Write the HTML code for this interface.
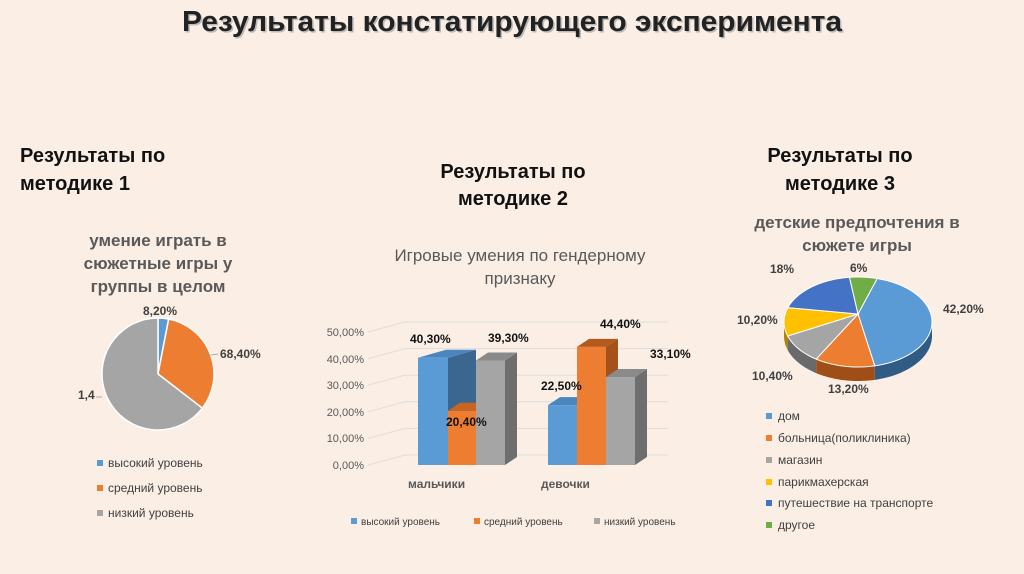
<!DOCTYPE html>
<html><head><meta charset="utf-8"><style>
body{margin:0;background:#fbeee5;}
svg{display:block;font-family:"Liberation Sans",sans-serif;}
</style></head><body>
<svg id="s" width="1024" height="574" viewBox="0 0 1024 574">
<rect width="1024" height="574" fill="#fbeee5"/>
<text x="512" y="31" text-anchor="middle" font-size="29" font-weight="bold" fill="#bbb" transform="translate(1.5,1.5)" textLength="660" lengthAdjust="spacingAndGlyphs">Результаты констатирующего эксперимента</text>
<text x="512" y="31" text-anchor="middle" font-size="29" font-weight="bold" fill="#222" textLength="660" lengthAdjust="spacingAndGlyphs">Результаты констатирующего эксперимента</text>
<g font-size="20" font-weight="bold" fill="#111">
<text x="20" y="162">Результаты по</text><text x="20" y="190">методике 1</text>
<text x="513" y="178" text-anchor="middle">Результаты по</text><text x="513" y="205" text-anchor="middle">методике 2</text>
<text x="840" y="162" text-anchor="middle">Результаты по</text><text x="840" y="190" text-anchor="middle">методике 3</text>
</g>
<g font-size="17" font-weight="bold" fill="#595959" text-anchor="middle">
<text x="158" y="246">умение играть в</text><text x="158" y="269">сюжетные игры у</text><text x="158" y="292">группы в целом</text>
<text x="857" y="228">детские предпочтения в</text><text x="857" y="251">сюжете игры</text>
</g>
<g font-size="17" fill="#595959" text-anchor="middle">
<text x="520" y="261">Игровые умения по гендерному</text><text x="520" y="284">признаку</text>
</g>
<g id="p1"></g>
<g font-size="12" fill="#404040" font-weight="bold">
<text x="143" y="315">8,20%</text>
<text x="220" y="358">68,40%</text>
<text x="78" y="399">1,4</text>
</g>
<line x1="205" y1="356" x2="218" y2="354" stroke="#999" stroke-width="0.8"/>
<line x1="96" y1="397" x2="102" y2="397" stroke="#999" stroke-width="0.8"/>
<g font-size="12" fill="#404040">
<rect x="97" y="460" width="6" height="6" fill="#5b9bd5"/><text x="108" y="467">высокий уровень</text>
<rect x="97" y="485" width="6" height="6" fill="#ed7d31"/><text x="108" y="492">средний уровень</text>
<rect x="97" y="510" width="6" height="6" fill="#a5a5a5"/><text x="108" y="517">низкий уровень</text>
</g>
<g id="grid" stroke="#ddd" stroke-width="1" fill="none"></g>
<g font-size="11" fill="#595959" text-anchor="end">
<text x="364" y="469">0,00%</text><text x="364" y="442">10,00%</text><text x="364" y="416">20,00%</text>
<text x="364" y="389">30,00%</text><text x="364" y="363">40,00%</text><text x="364" y="336">50,00%</text>
</g>
<g id="bars"></g>
<g font-size="12" font-weight="bold" fill="#111">
<text x="410" y="343">40,30%</text><text x="488" y="342">39,30%</text><text x="446" y="426">20,40%</text>
<text x="541" y="390">22,50%</text><text x="600" y="328">44,40%</text><text x="650" y="358">33,10%</text>
</g>
<g font-size="12" font-weight="bold" fill="#595959">
<text x="408" y="488">мальчики</text><text x="541" y="488">девочки</text>
</g>
<g font-size="10" fill="#404040">
<rect x="351" y="518" width="6" height="6" fill="#5b9bd5"/><text x="361" y="525">высокий уровень</text>
<rect x="474" y="518" width="6" height="6" fill="#ed7d31"/><text x="484" y="525">средний уровень</text>
<rect x="594" y="518" width="6" height="6" fill="#a5a5a5"/><text x="604" y="525">низкий уровень</text>
</g>
<g id="p3"></g>
<g font-size="12" fill="#404040" font-weight="bold">
<text x="770" y="273">18%</text><text x="850" y="272">6%</text><text x="943" y="313">42,20%</text>
<text x="737" y="324">10,20%</text><text x="752" y="380">10,40%</text><text x="828" y="393">13,20%</text>
</g>
<g font-size="12" fill="#404040">
<rect x="766" y="413" width="6" height="6" fill="#5b9bd5"/><text x="778" y="420">дом</text>
<rect x="766" y="435" width="6" height="6" fill="#ed7d31"/><text x="778" y="442">больница(поликлиника)</text>
<rect x="766" y="457" width="6" height="6" fill="#a5a5a5"/><text x="778" y="464">магазин</text>
<rect x="766" y="479" width="6" height="6" fill="#ffc000"/><text x="778" y="486">парикмахерская</text>
<rect x="766" y="500" width="6" height="6" fill="#4472c4"/><text x="778" y="507">путешествие на транспорте</text>
<rect x="766" y="522" width="6" height="6" fill="#70ad47"/><text x="778" y="529">другое</text>
</g>
</svg>
<script>
var NS="http://www.w3.org/2000/svg";
function el(p,t,a){var e=document.createElementNS(NS,t);for(var k in a)e.setAttribute(k,a[k]);document.getElementById(p).appendChild(e);return e;}
function rad(d){return d*Math.PI/180;}
(function(){var cx=158,cy=374,r=56,s=[[0,11,"#5b9bd5"],[11,127.6,"#ed7d31"],[127.6,360,"#a5a5a5"]];
s.forEach(function(v){var a=rad(v[0]),b=rad(v[1]);var x1=cx+r*Math.sin(a),y1=cy-r*Math.cos(a),x2=cx+r*Math.sin(b),y2=cy-r*Math.cos(b);
el("p1","path",{d:"M"+cx+","+cy+"L"+x1+","+y1+"A"+r+","+r+" 0 "+((v[1]-v[0])>180?1:0)+" 1 "+x2+","+y2+"Z",fill:v[2],stroke:"#fff","stroke-width":1.5});});})();
for(var i=0;i<=5;i++){var y=465-i*26.6;el("grid","path",{d:"M368,"+y+" L405,"+(y-10)+" L668,"+(y-10)});}
function bar(x,w,v,c,side,top,d){var yb=465,yt=465-v*2.66,dy=8;d=d||12;
el("bars","path",{d:"M"+(x+w)+","+yb+" L"+(x+w+d)+","+(yb-dy)+" L"+(x+w+d)+","+(yt-dy)+" L"+(x+w)+","+yt+"Z",fill:side});
el("bars","rect",{x:x,y:yt,width:w,height:yb-yt,fill:c});
el("bars","path",{d:"M"+x+","+yt+" L"+(x+d)+","+(yt-dy)+" L"+(x+w+d)+","+(yt-dy)+" L"+(x+w)+","+yt+"Z",fill:top});}
bar(418,30,40.3,"#5b9bd5","#3a6690","#4a85c0",28);
bar(448,28,20.4,"#ed7d31","#b55a1e","#c9651f");
bar(476,29,39.3,"#a5a5a5","#6e6e6e","#8a8a8a");
bar(548,29,22.5,"#5b9bd5","#3a6690","#4a85c0");
bar(577,29,44.4,"#ed7d31","#a5511c","#b35a1e");
bar(606,29,33.1,"#a5a5a5","#6e6e6e","#8a8a8a");
(function(){var cx=858,cy=322,rx=74,ry=45,dep=14,start=15;
var sl=[[42.2,"#5b9bd5","#2f5b85"],[13.2,"#ed7d31","#a04e18"],[10.4,"#a5a5a5","#6a6a6a"],[10.2,"#ffc000","#b08400"],[18,"#4472c4","#2c4c88"],[6,"#70ad47","#4a7a2e"]];
function P(t,o){return [cx+rx*Math.sin(rad(t)),cy-ry*Math.cos(rad(t))+(o||0)];}
var a=start,arr=[];sl.forEach(function(s){var b=a+s[0]*3.6;arr.push([a,b,s]);a=b;});
arr.forEach(function(q){var a0=Math.max(q[0],90),a1=Math.min(q[1],270);if(a1<=a0)return;
var d="M"+P(a0);for(var t=a0;t<=a1;t+=2)d+=" L"+P(t);d+=" L"+P(a1);for(var t=a1;t>=a0;t-=2)d+=" L"+P(t,dep);d+=" L"+P(a0,dep)+"Z";
el("p3","path",{d:d,fill:q[2][2]});});
arr.forEach(function(q){var d="M"+cx+","+(cy-8)+" L"+P(q[0]);for(var t=q[0];t<=q[1];t+=2)d+=" L"+P(t);d+=" L"+P(q[1])+"Z";
el("p3","path",{d:d,fill:q[2][1],stroke:"#fff","stroke-width":1});});})();
</script>
</body></html>
